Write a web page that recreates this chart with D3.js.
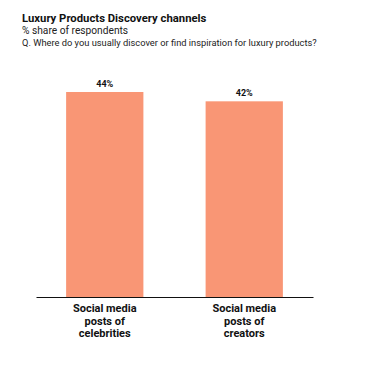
<!DOCTYPE html>
<html><head><meta charset="utf-8">
<script src="https://cdn.jsdelivr.net/npm/d3@7"></script>
<style>body{margin:0;background:#fff;}svg{display:block;font-family:Roboto,sans-serif;}</style>
</head><body>
<svg id="c" width="373" height="365"></svg>
<script>
const categories = [["Social media","posts of","celebrities"],["Social media","posts of","creators"]];
const values = [44, 42];
const valueLabels = ["44%", "42%"];
const title = "Luxury Products Discovery channels";
const subtitle = "% share of respondents";
const question = "Q. Where do you usually discover or find inspiration for luxury products?";

const svg = d3.select("#c");
const x = d3.scaleBand().domain(d3.range(values.length)).range([36, 313]).paddingInner(0.446).paddingOuter(0.216);
const y = d3.scaleLinear().domain([0, 44]).range([297, 92]);

svg.append("text").attr("x", 22).attr("y", 22).attr("font-size", 11.3).attr("font-weight", "bold").attr("fill", "#111").text(title);
svg.append("text").attr("x", 22).attr("y", 34).attr("font-size", 10.2).attr("fill", "#222").text(subtitle);
svg.append("text").attr("x", 22).attr("y", 46).attr("font-size", 9.3).attr("fill", "#222").text(question);

svg.selectAll("rect.bar").data(values).join("rect").attr("class","bar")
  .attr("x", (d,i) => x(i)).attr("width", x.bandwidth())
  .attr("y", d => y(d)).attr("height", d => y(0) - y(d))
  .attr("fill", "#f99675");

svg.selectAll("text.val").data(values).join("text").attr("class","val")
  .attr("x", (d,i) => x(i) + x.bandwidth()/2).attr("y", d => y(d) - 5)
  .attr("text-anchor", "middle").attr("font-size", 9).attr("font-weight", "bold").attr("fill", "#111")
  .text((d,i) => valueLabels[i]);

const axis = d3.axisBottom(x).tickSize(0).tickFormat("");
const g = svg.append("g").attr("transform", `translate(0,${y(0)})`).call(axis);
g.select(".domain").attr("stroke", "#111").attr("stroke-width", 1.2);

categories.forEach((lines, i) => {
  const t = svg.append("text").attr("text-anchor", "middle").attr("font-size", 11).attr("font-weight", "bold").attr("fill", "#111");
  lines.forEach((l, j) => {
    t.append("tspan").attr("x", x(i) + x.bandwidth()/2).attr("y", 312 + j*12.5).text(l);
  });
});
</script>
</body></html>
